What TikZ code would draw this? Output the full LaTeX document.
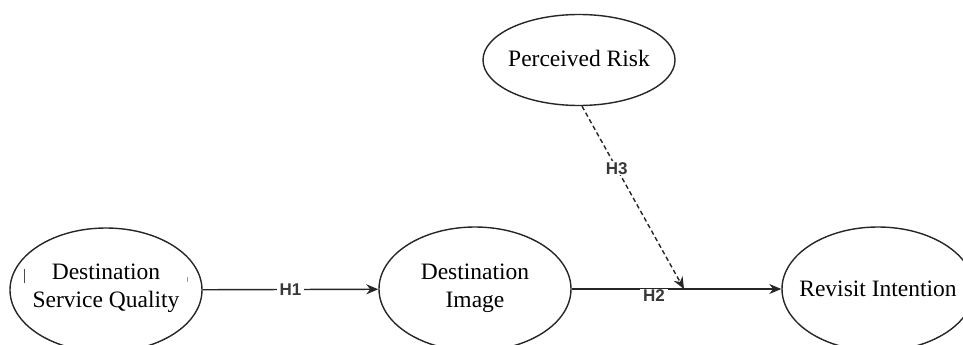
\documentclass[tikz,border=0pt]{standalone}
\usepackage{fontspec}
\setmainfont{Liberation Serif}
\newfontfamily\labfont{Liberation Sans}
\usetikzlibrary{shapes.geometric,arrows.meta}
\begin{document}
\begin{tikzpicture}[x=1pt,y=-1pt,
  construct/.style={draw=black!85,line width=1.4pt,ellipse,inner sep=0pt,
    minimum width=192pt,minimum height=124pt},
  smallconstruct/.style={construct,minimum height=91pt},
  ctext/.style={inner sep=0pt,align=center,
    font=\fontsize{23.5}{28}\selectfont,text=black},
  path/.style={draw=black!85,line width=1.4pt,-{Stealth[length=12pt,width=10pt]}},
  hlabel/.style={fill=white,inner xsep=3pt,inner ysep=1pt,text=black!78,
    font=\labfont\bfseries\fontsize{17}{17}\selectfont}]
\useasboundingbox (0,0) rectangle (963,345);
\node[construct] (dsq) at (106,290) {};
\node[construct] (di) at (475,289) {};
\node[construct] (ri) at (878,289) {};
\node[smallconstruct] (pr) at (579,60) {};
\node[ctext] (dsqt) at (106,288) {Destination\\Service Quality};
\node[ctext] (dit) at (475,288) {Destination\\Image};
\node[ctext] (rit) at (878,289) {Revisit Intention};
\node[ctext] (prt) at (579,58) {Perceived Risk};
\draw[black!70,line width=0.8pt] (24,269) -- (24,283);
\draw[black!40,line width=0.8pt] (187,277) -- (187,282);
\coordinate (m) at (684,289);
\draw[path] (dsq) -- node[hlabel] {H1} (di);
\draw[path] (di) -- (ri);
\node[hlabel] (h2) at (654,295.5) {H2};
\draw[path,dashed,dash pattern=on 4.5pt off 3pt] ([xshift=3pt]pr.south) -- node[hlabel,pos=0.34] {H3} (m);
\end{tikzpicture}
\end{document}
